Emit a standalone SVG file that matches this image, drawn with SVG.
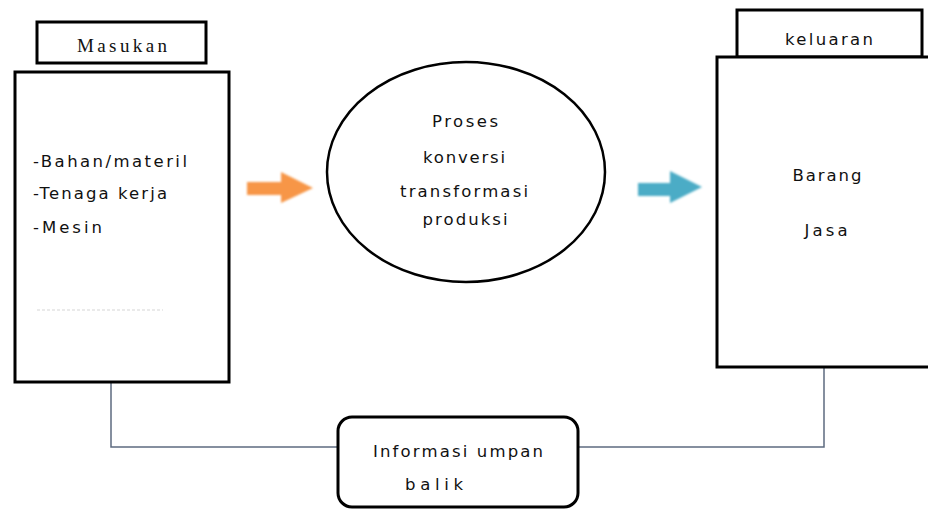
<svg xmlns="http://www.w3.org/2000/svg" width="928" height="509" viewBox="0 0 928 509">
<style>
.box{fill:#fff;stroke:#000;stroke-width:3}
.t{font-family:"DejaVu Sans","Liberation Sans",sans-serif;font-size:16.5px;fill:#111}
.ts{font-family:"Liberation Serif","DejaVu Serif",serif;font-size:19px;fill:#111}
.conn{fill:none;stroke:#5d6b80;stroke-width:1.5}
</style>
<defs>
<filter id="soft" x="-10%" y="-20%" width="120%" height="140%"><feGaussianBlur stdDeviation="1.2"/></filter>
</defs>
<rect width="928" height="509" fill="#fff"/>
<g id="connectors">
<polyline class="conn" points="111,382 111,447 338,447"/>
<polyline class="conn" points="578,447 824,447 824,367"/>
<path id="arrow-in" d="M247,182 H281 V172 L313,188 L281,203 V195 H247 Z" fill="#f79646" filter="url(#soft)"/>
<path id="arrow-out" d="M638,183 H670 V171 L702,187 L670,203 V196 H638 Z" fill="#4bacc6" filter="url(#soft)"/>
</g>
<g id="masukan">
<rect class="box" x="37" y="22" width="169" height="41"/>
<text class="ts" x="122" y="52" text-anchor="middle" textLength="90" lengthAdjust="spacing">Masukan</text>
</g>
<g id="input-box">
<rect class="box" x="15" y="72" width="214" height="310"/>
<text class="t" x="33" y="167" textLength="154" lengthAdjust="spacing">-Bahan/materil</text>
<text class="t" x="33" y="199" textLength="134" lengthAdjust="spacing">-Tenaga kerja</text>
<text class="t" x="33" y="233" textLength="69" lengthAdjust="spacing">-Mesin</text>
<line x1="37" y1="310" x2="163" y2="310" stroke="#e4e4e4" stroke-width="1.5" stroke-dasharray="3 2"/>
</g>
<g id="proses">
<ellipse cx="466" cy="172" rx="139" ry="110" fill="#fff" stroke="#000" stroke-width="2.5"/>
<text class="t" x="465" y="127" text-anchor="middle" textLength="66" lengthAdjust="spacing">Proses</text>
<text class="t" x="464" y="163" text-anchor="middle" textLength="82" lengthAdjust="spacing">konversi</text>
<text class="t" x="464" y="197" text-anchor="middle" textLength="128" lengthAdjust="spacing">transformasi</text>
<text class="t" x="465" y="225" text-anchor="middle" textLength="85" lengthAdjust="spacing">produksi</text>
</g>
<g id="keluaran">
<rect class="box" x="737" y="10" width="185" height="47"/>
<text class="t" x="829" y="45" text-anchor="middle" textLength="88" lengthAdjust="spacing">keluaran</text>
</g>
<g id="output-box">
<rect class="box" x="717" y="57" width="220" height="310"/>
<text class="t" x="827" y="181" text-anchor="middle" textLength="69" lengthAdjust="spacing">Barang</text>
<text class="t" x="826" y="236" text-anchor="middle" textLength="43" lengthAdjust="spacing">Jasa</text>
</g>
<g id="feedback">
<rect class="box" x="338" y="417" width="240" height="90" rx="14" ry="14"/>
<text class="t" x="458" y="457" text-anchor="middle" textLength="170" lengthAdjust="spacing">Informasi umpan</text>
<text class="t" x="434" y="490" text-anchor="middle" textLength="58" lengthAdjust="spacing">balik</text>
</g>
</svg>
